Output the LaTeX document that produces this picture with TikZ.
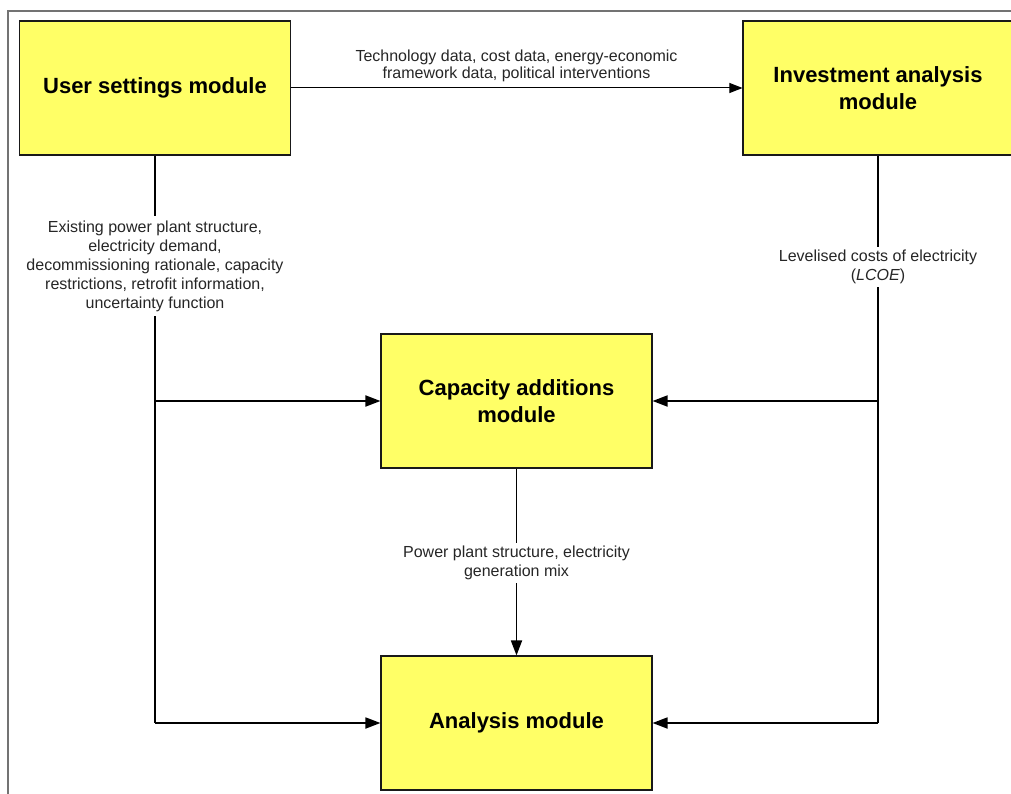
\documentclass[tikz,border=0pt]{standalone}
\usepackage{fontspec}
\setmainfont{Liberation Sans}
\usetikzlibrary{arrows.meta}
\definecolor{boxyellow}{RGB}{255,255,102}
\begin{document}
\begin{tikzpicture}[x=1pt,y=-1pt,
  module/.style={draw=black!90,line width=1.1pt,fill=boxyellow,minimum width=271pt,minimum height=134pt,inner sep=0pt,align=center,font=\bfseries\fontsize{22}{27}\selectfont},
  conn/.style={line width=1.8pt,draw=black},
  arr/.style={conn,-{Triangle[length=15pt,width=11pt]}},
  lbl/.style={fill=white,align=center,inner sep=5pt,text=black!85,font=\fontsize{16}{19}\selectfont}]
\useasboundingbox (0,0) rectangle (1011,794);
\clip (0,0) rectangle (1011,794);
% frame
\draw[black!55,line width=1.3pt] (8,800) -- (8,11) -- (1020,11);
% modules
\node[module] (us) at (155,88) {User settings module};
\node[module,minimum width=270pt] (ia) at (878,88) {Investment analysis\\module};
\node[module] (ca) at (516.5,401) {Capacity additions\\module};
\node[module] (am) at (516.5,723) {Analysis module};
% top connector
\draw[conn,line width=1pt,-{Triangle[length=13pt,width=10pt]}] (us.east) -- (ia.west);
\node[align=center,text=black!85,font=\fontsize{16}{17.5}\selectfont] (toplbl) at (516.5,66) {Technology data, cost data, energy-economic\\framework data, political interventions};
% left connector
\coordinate (lj) at (us.south |- am.west);
\draw[conn] (us.south) -- (lj);
\draw[arr] (lj) -- (am.west);
\draw[arr] (us.south |- ca.west) -- (ca.west);
\node[lbl] (leftlbl) at (155,266) {Existing power plant structure,\\electricity demand,\\decommissioning rationale, capacity\\restrictions, retrofit information,\\uncertainty function};
% right connector
\coordinate (rj) at (ia.south |- am.east);
\draw[conn] (ia.south) -- (rj);
\draw[arr] (rj) -- (am.east);
\draw[arr] (ia.south |- ca.east) -- (ca.east);
\node[lbl,inner sep=3pt] (rightlbl) at (878,267) {Levelised costs of electricity\\(\textit{LCOE})};
% middle connector
\draw[arr] (ca.south) -- (am.north);
\node[lbl,inner sep=3pt] (midlbl) at (516.5,563) {Power plant structure, electricity\\generation mix};
\end{tikzpicture}
\end{document}
